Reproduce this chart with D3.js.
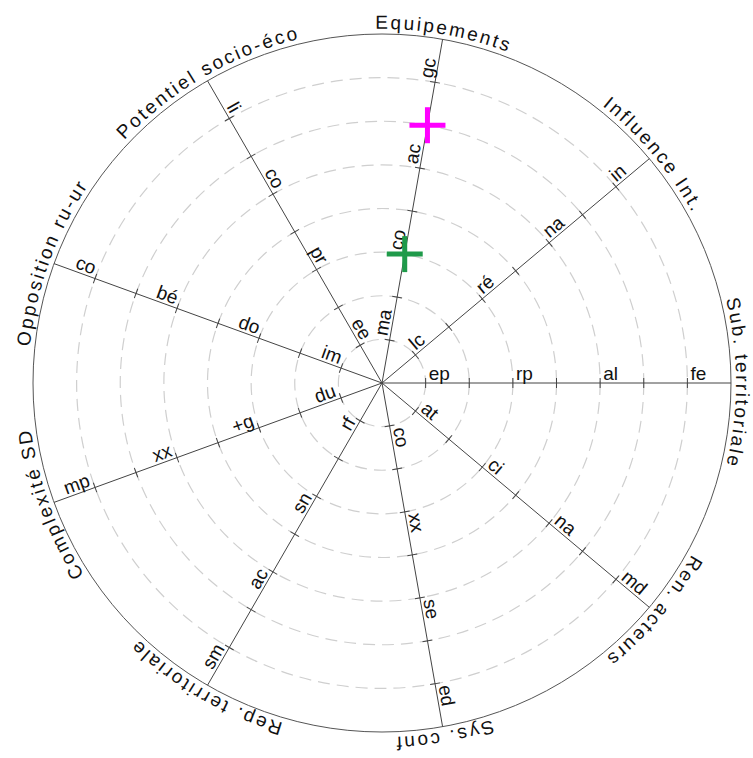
<!DOCTYPE html>
<html>
<head>
<meta charset="utf-8">
<script src="https://cdn.jsdelivr.net/npm/d3@7"></script>
<style>
  body { margin: 0; background: #fff; }
</style>
</head>
<body>
<div id="chart"></div>
<script>
// Axis names (counter-clockwise from the right)
const axisNames = [
    "Sub. territoriale", "Influence Int.", "Equipements", "Potentiel socio-éco",
    "Opposition ru-ur", "Complexité SD", "Rep. territoriale", "Sys. conf", "Ren. acteurs"
];

// Graduations: every level gets a tick + dashed ring, odd ones get a label
const levels = [1, 2, 3, 4, 5, 6, 7];
const labelLevels = [1, 3, 5, 7];
const maxLevel = 8;

// Tick labels for each axis, at labelLevels
const tickLabels = [
    ["ep", "rp", "al", "fe"],
    ["lc", "ré", "na", "in"],
    ["ma", "co", "ac", "gc"],
    ["ee", "pr", "co", "li"],
    ["im", "do", "bé", "co"],
    ["du", "+g", "xx", "mp"],
    ["rf", "sn", "ac", "sm"],
    ["co", "xx", "se", "ed"],
    ["at", "ci", "na", "md"]
];

// Plotted points
const markerAxes = ["Equipements", "Equipements"];
const markerValues = [6, 3];
const markerColors = ["#ff00ff", "#1f9a4a"];

function renderPolar() {
    const width = 753;
    const height = 758;
    const cx = 382;
    const cy = 383;
    const R = 349;

    const svg = d3.select("#chart")
        .append("svg")
        .attr("width", width)
        .attr("height", height)
        .attr("viewBox", [0, 0, width, height])
        .style("font-family", "'Liberation Sans', Arial, sans-serif");

    // Scales
    const r = d3.scaleLinear().domain([0, maxLevel]).range([0, R]);
    const angle = d3.scaleLinear().domain([0, axisNames.length]).range([0, 2 * Math.PI]);

    const pt = (i, v) => [cx + r(v) * Math.cos(angle(i)), cy - r(v) * Math.sin(angle(i))];
    const isRight = i => Math.cos(angle(i)) >= -1e-6;

    // Dashed rings
    svg.append("g")
        .selectAll("circle")
        .data(levels)
        .join("circle")
        .attr("cx", cx)
        .attr("cy", cy)
        .attr("r", d => r(d))
        .attr("fill", "none")
        .attr("stroke", "#cfcfcf")
        .attr("stroke-width", 1.2)
        .attr("stroke-dasharray", "12,7");

    // Outer circle
    svg.append("circle")
        .attr("cx", cx)
        .attr("cy", cy)
        .attr("r", r(maxLevel))
        .attr("fill", "none")
        .attr("stroke", "#555")
        .attr("stroke-width", 1);

    // Axes
    const axes = svg.append("g")
        .selectAll("g")
        .data(axisNames.map((name, i) => ({ name, i })))
        .join("g");

    axes.append("line")
        .attr("x1", cx)
        .attr("y1", cy)
        .attr("x2", d => pt(d.i, maxLevel)[0])
        .attr("y2", d => pt(d.i, maxLevel)[1])
        .attr("stroke", "#444")
        .attr("stroke-width", 1);

    // Ticks across each axis
    axes.selectAll("line.tick")
        .data(d => levels.map(v => ({ i: d.i, v })))
        .join("line")
        .attr("class", "tick")
        .attr("transform", d => {
            const [x, y] = pt(d.i, d.v);
            return `translate(${x},${y}) rotate(${-angle(d.i) * 180 / Math.PI})`;
        })
        .attr("x1", 0).attr("x2", 0)
        .attr("y1", -5).attr("y2", 5)
        .attr("stroke", "#444")
        .attr("stroke-width", 1);

    // Tick labels, kept upright
    axes.selectAll("text.tlab")
        .data(d => labelLevels.map((v, k) => ({ i: d.i, v, label: tickLabels[d.i][k] })))
        .join("text")
        .attr("class", "tlab")
        .attr("transform", d => {
            const [x, y] = pt(d.i, d.v);
            const deg = angle(d.i) * 180 / Math.PI;
            return `translate(${x},${y}) rotate(${isRight(d.i) ? -deg : 180 - deg})`;
        })
        .attr("x", d => isRight(d.i) ? 3 : -3)
        .attr("y", -3)
        .attr("text-anchor", d => isRight(d.i) ? "start" : "end")
        .attr("font-size", 19)
        .attr("fill", "#111")
        .text(d => d.label);

    // Axis titles curved along the outer circle, read clockwise
    const Rt = R + 5;
    const defs = svg.append("defs");
    axisNames.forEach((name, i) => {
        const phi = -angle(i);
        const p = d3.path();
        p.arc(cx, cy, Rt, phi - Math.PI / 2, phi + Math.PI / 2, false);
        defs.append("path").attr("id", `title-arc-${i}`).attr("d", p.toString());
    });

    svg.append("g")
        .selectAll("text")
        .data(axisNames)
        .join("text")
        .attr("font-size", 19)
        .attr("letter-spacing", 2.4)
        .attr("fill", "#111")
        .append("textPath")
        .attr("href", (d, i) => `#title-arc-${i}`)
        .attr("startOffset", "50%")
        .attr("text-anchor", "middle")
        .text(d => d);

    // Markers (crosses)
    const marks = markerValues.map((v, k) => ({
        i: axisNames.indexOf(markerAxes[k]), v, color: markerColors[k]
    }));
    const size = 18;
    const mg = svg.append("g")
        .selectAll("g")
        .data(marks)
        .join("g")
        .attr("transform", d => `translate(${pt(d.i, d.v)[0]},${pt(d.i, d.v)[1]})`)
        .attr("stroke", d => d.color)
        .attr("stroke-width", 5);
    mg.append("line").attr("x1", -size).attr("x2", size).attr("y1", 0).attr("y2", 0);
    mg.append("line").attr("x1", 0).attr("x2", 0).attr("y1", -size).attr("y2", size);
}

renderPolar();
</script>
</body>
</html>
